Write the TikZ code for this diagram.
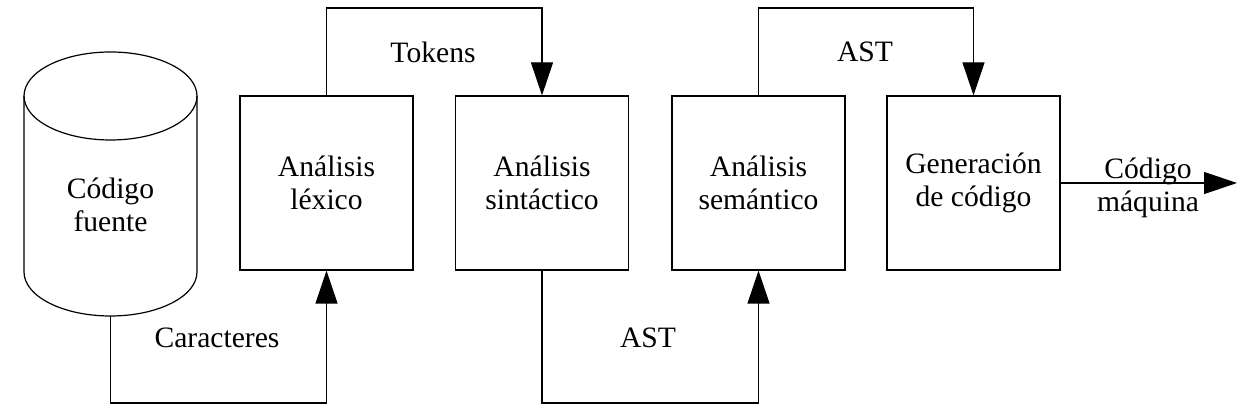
\documentclass[tikz,border=0pt]{standalone}
\usepackage{fontspec}
\setmainfont{Liberation Serif}
\usetikzlibrary{arrows.meta}
\begin{document}
\begin{tikzpicture}[x=1pt,y=1pt,line width=1.2pt,
  font=\fontsize{29.6}{33}\selectfont,
  stagebox/.style={draw, minimum width=173pt, minimum height=174pt, inner sep=0pt, align=center},
  flow/.style={-{Triangle[width=22pt,length=33pt]}}]
\useasboundingbox (0,0) rectangle (1245,414);
% Draw the source cylinder
\draw (24,318) -- (24,142) arc[start angle=180,end angle=360,x radius=86.5,y radius=44] -- (197,318);
\draw (110.5,318) ellipse[x radius=86.5,y radius=44];
\node[align=center] (src) at (110.5,209) {Código\\fuente};
\coordinate (srcbot) at (110.5,98);
% Draw the four stages
\foreach \i/\x/\t in {1/326.5/{Análisis\\léxico}, 2/542/{Análisis\\sintáctico},
                      3/758.5/{Análisis\\semántico}, 4/973.5/{Generación\\de código}}
{
  \node[stagebox] (b\i) at (\x,231) {\t};
}
% Connect them, alternating below and above
\draw[flow] (srcbot) -- (110.5,11) -| (b1.south);
\draw[flow] (b1.north) -- (326.5,406) -| (b2.north);
\draw[flow] (b2.south) -- (542,11) -| (b3.south);
\draw[flow] (b3.north) -- (758.5,406) -| (b4.north);
\coordinate (out) at (1237,231);
\draw[flow] (b4.east) -- (out);
% Labels on the connectors
\node (lchar) at (217,76) {Caracteres};
\node (ltok) at (433,362) {Tokens};
\node (last1) at (648,76) {AST};
\node (last2) at (865,362) {AST};
\node[align=center] (lout) at (1148,226) {Código\\máquina};
\end{tikzpicture}
\end{document}
